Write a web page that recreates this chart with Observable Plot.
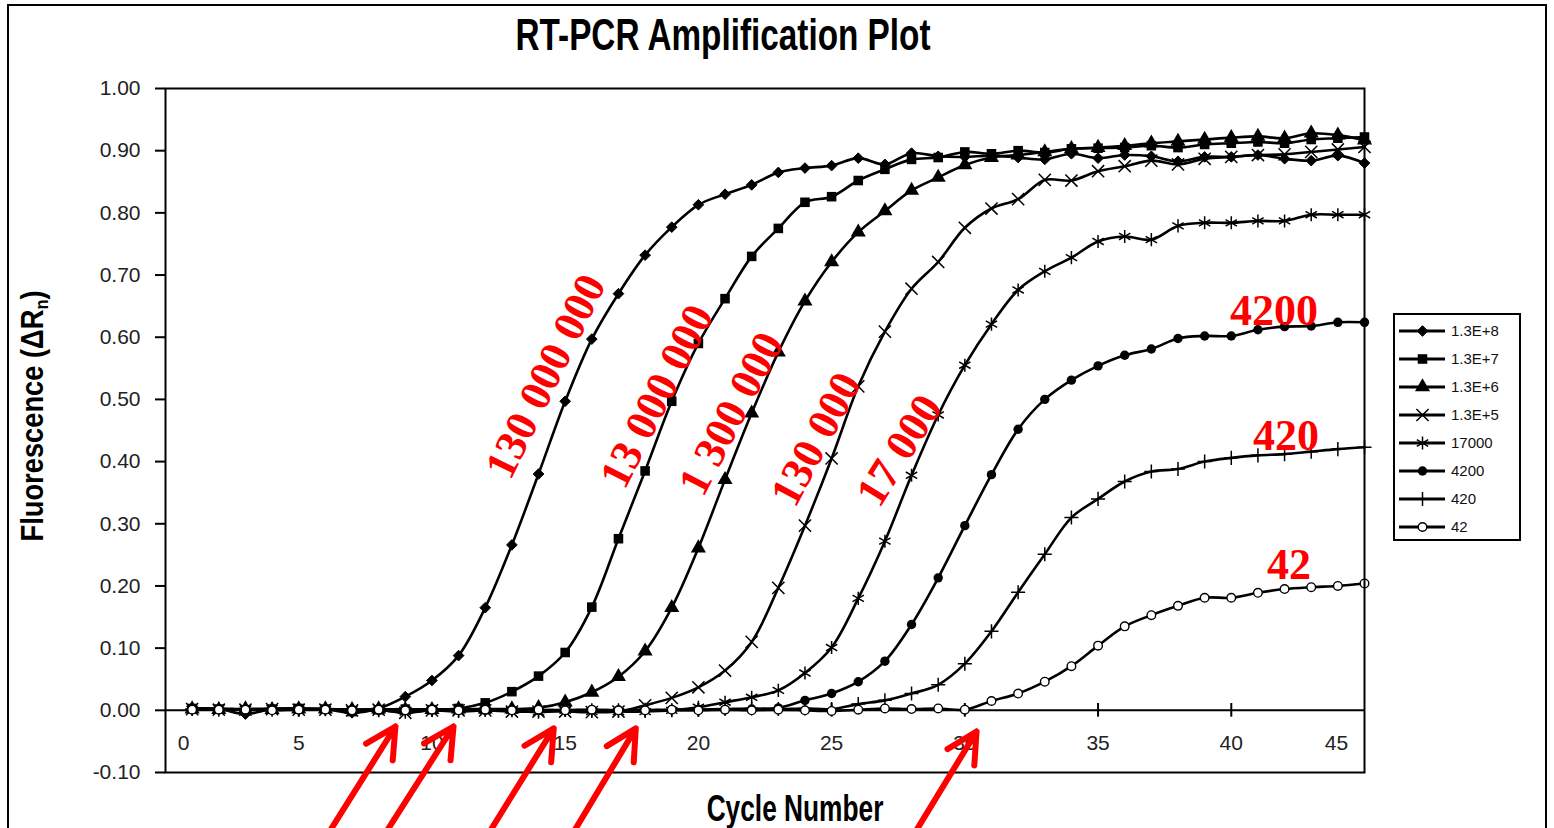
<!DOCTYPE html>
<html>
<head>
<meta charset="utf-8">
<script src="https://cdn.jsdelivr.net/npm/d3@7"></script>
<script src="https://cdn.jsdelivr.net/npm/@observablehq/plot@0.6"></script>
<style>
html, body { margin: 0; padding: 0; background: #fff; overflow: hidden; }
#wrap { position: relative; width: 1554px; height: 828px; overflow: hidden; font-family: "Liberation Sans", Arial, sans-serif; background: #fff; }
#border { position: absolute; left: 7px; top: 4px; width: 1540px; height: 900px; border: 2px solid #000; box-sizing: border-box; }
#chart { position: absolute; left: 0; top: 0; }
.lbl { position: absolute; font-weight: bold; white-space: nowrap; color: #000; line-height: 1; transform-origin: 50% 50%; }
#title { left: 723px; top: 33.5px; font-size: 45px; transform: translate(-50%, -50%) scaleX(0.74); }
#xlabel { left: 795px; top: 809px; font-size: 36px; transform: translate(-50%, -50%) scaleX(0.73); }
#ylabel { left: 32px; top: 416px; font-size: 31px; transform: translate(-50%, -50%) rotate(-90deg) scaleX(0.88); }
#ylabel sub { font-size: 60%; vertical-align: -0.3em; line-height: 0; }
#legend { position: absolute; left: 1393px; top: 313px; width: 128px; height: 228px; border: 2.5px solid #000; box-sizing: border-box; background: #fff; }
</style>
</head>
<body>
<div id="wrap">
  <div id="border"></div>
  <div id="chart"></div>
  <div id="title" class="lbl">RT-PCR Amplification Plot</div>
  <div id="xlabel" class="lbl">Cycle Number</div>
  <div id="ylabel" class="lbl">Fluorescence (ΔR<sub>n</sub>)</div>
  <div id="legend"></div>
</div>
<script>
// ---------- data ----------
const cycles = d3.range(1, 46); // cycle numbers 1..45
const seriesNames = ["1.3E+8", "1.3E+7", "1.3E+6", "1.3E+5", "17000", "4200", "420", "42"];

const s1 = [0.003, 0.002, -0.006, 0.002, 0.003, 0.002, -0.004, 0.003, 0.022, 0.048,
  0.088, 0.165, 0.266, 0.380, 0.497, 0.597, 0.670, 0.732, 0.777, 0.813,
  0.830, 0.845, 0.865, 0.872, 0.876, 0.888, 0.878, 0.896, 0.891, 0.890,
  0.892, 0.889, 0.886, 0.895, 0.888, 0.893, 0.891, 0.883, 0.890, 0.890,
  0.893, 0.887, 0.884, 0.892, 0.880];
const s2 = [0.003, 0.002, 0.001, 0.002, 0.003, 0.002, -0.002, 0.001, 0.002, 0.001,
  0.003, 0.012, 0.030, 0.055, 0.093, 0.166, 0.276, 0.385, 0.497, 0.590,
  0.662, 0.730, 0.775, 0.817, 0.826, 0.852, 0.870, 0.886, 0.889, 0.898,
  0.895, 0.900, 0.897, 0.903, 0.904, 0.905, 0.908, 0.905, 0.910, 0.912,
  0.914, 0.912, 0.918, 0.920, 0.922];
const s3 = [0.002, 0.001, 0.002, 0.001, 0.002, 0.002, 0.001, 0.002, 0.001, 0.001,
  0.002, 0.002, 0.002, 0.004, 0.013, 0.029, 0.054, 0.095, 0.165, 0.261,
  0.371, 0.478, 0.576, 0.658, 0.721, 0.769, 0.803, 0.836, 0.857, 0.877,
  0.889, 0.893, 0.898, 0.903, 0.905, 0.908, 0.912, 0.915, 0.918, 0.921,
  0.923, 0.920, 0.928, 0.925, 0.917];
const s4 = [0.002, 0.001, 0.001, 0.002, 0.001, 0.001, 0.000, 0.001, -0.004, 0.000,
  0.000, 0.000, -0.002, -0.002, -0.002, -0.003, -0.002, 0.008, 0.020, 0.037,
  0.064, 0.110, 0.197, 0.297, 0.405, 0.521, 0.609, 0.678, 0.721, 0.776,
  0.807, 0.822, 0.853, 0.852, 0.867, 0.875, 0.884, 0.878, 0.887, 0.890,
  0.893, 0.894, 0.898, 0.902, 0.906];
const s5 = [0.002, 0.003, 0.002, 0.003, 0.002, 0.001, 0.001, 0.000, -0.003, 0.000,
  -0.002, 0.000, 0.000, -0.003, 0.000, -0.002, -0.002, -0.002, 0.000, 0.005,
  0.013, 0.021, 0.032, 0.060, 0.101, 0.180, 0.272, 0.378, 0.475, 0.555,
  0.621, 0.676, 0.706, 0.728, 0.754, 0.762, 0.757, 0.779, 0.784, 0.784,
  0.787, 0.787, 0.797, 0.797, 0.797];
const s6 = [0.002, 0.002, 0.001, 0.002, 0.001, 0.001, 0.001, 0.000, 0.000, 0.002,
  0.000, 0.000, 0.001, 0.000, 0.000, 0.001, 0.000, 0.000, 0.001, 0.001,
  0.001, 0.002, 0.004, 0.016, 0.027, 0.046, 0.079, 0.138, 0.213, 0.297,
  0.379, 0.452, 0.500, 0.531, 0.554, 0.571, 0.581, 0.598, 0.602, 0.602,
  0.612, 0.617, 0.618, 0.624, 0.624];
const s7 = [0.002, 0.001, 0.002, 0.001, 0.001, 0.002, 0.001, 0.000, 0.001, 0.001,
  0.000, 0.001, 0.000, 0.000, 0.001, 0.000, 0.000, 0.001, 0.000, 0.001,
  0.002, 0.003, 0.002, 0.003, 0.002, 0.010, 0.016, 0.027, 0.041, 0.075,
  0.127, 0.190, 0.251, 0.310, 0.340, 0.368, 0.384, 0.388, 0.400, 0.406,
  0.410, 0.412, 0.416, 0.420, 0.423];
const s8 = [0.001, 0.001, 0.001, 0.000, 0.001, 0.001, 0.000, 0.001, 0.000, 0.001,
  0.000, 0.001, 0.000, 0.001, 0.000, 0.001, 0.000, 0.000, 0.001, 0.000,
  0.001, 0.000, 0.001, 0.000, -0.001, 0.001, 0.003, 0.002, 0.003, 0.001,
  0.015, 0.027, 0.046, 0.071, 0.104, 0.135, 0.153, 0.168, 0.181, 0.181,
  0.189, 0.195, 0.198, 0.200, 0.204];
const seriesValues = [s1, s2, s3, s4, s5, s6, s7, s8];

const yTicks = [-0.1, 0, 0.1, 0.2, 0.3, 0.4, 0.5, 0.6, 0.7, 0.8, 0.9, 1.0];
const xTicks = [0, 5, 10, 15, 20, 25, 30, 35, 40, 45];

// red copy-number annotations (data coordinates: cycle, ΔRn)
const annoText = ["130 000 000", "13 000 000", "1 300 000", "130 000", "17 000", "4200", "420", "42"];
const annoCycle = [14.27, 18.44, 21.23, 24.42, 27.54, 41.6, 42.05, 42.17];
const annoValue = [0.537, 0.505, 0.477, 0.436, 0.418, 0.643, 0.442, 0.234];
const annoAngle = [-64, -63, -62.5, -62, -58, 0, 0, 0];

// red arrows pointing at threshold cycles (tail -> tip)
const arrowTailCycle = [5.76, 7.89, 11.78, 14.95, 27.77];
const arrowTailValue = [-0.222, -0.222, -0.222, -0.222, -0.222];
const arrowTipCycle = [8.63, 10.81, 14.57, 17.65, 30.44];
const arrowTipValue = [-0.026, -0.026, -0.029, -0.029, -0.034];

// ---------- build tables ----------
const data = seriesNames.flatMap((name, i) =>
  cycles.map((c, j) => ({series: name, cycle: c, value: seriesValues[i][j]})));
const annos = annoText.map((t, i) => ({text: t, cycle: annoCycle[i], value: annoValue[i], angle: annoAngle[i]}));
const arrows = arrowTipCycle.map((c, i) => ({x1: arrowTailCycle[i], y1: arrowTailValue[i], x2: c, y2: arrowTipValue[i]}));

const markerStyles = [
  {symbol: d3.symbolDiamond2, r: 4.8, fill: "black", stroke: "black", strokeWidth: 1},
  {symbol: d3.symbolSquare, r: 5.4, fill: "black", stroke: "none", strokeWidth: 0},
  {symbol: d3.symbolTriangle, r: 5.6, fill: "black", stroke: "none", strokeWidth: 0},
  {symbol: d3.symbolTimes, r: 5.6, fill: "none", stroke: "black", strokeWidth: 1.5},
  {symbol: d3.symbolAsterisk, r: 6.2, fill: "none", stroke: "black", strokeWidth: 1.5},
  {symbol: d3.symbolCircle, r: 4.7, fill: "black", stroke: "none", strokeWidth: 0},
  {symbol: d3.symbolPlus, r: 4.6, fill: "none", stroke: "black", strokeWidth: 1.5},
  {symbol: d3.symbolCircle, r: 4.3, fill: "white", stroke: "black", strokeWidth: 1.4}
];

const dotMarks = seriesNames.map((name, i) => {
  const m = markerStyles[i];
  return Plot.dot(data.filter(d => d.series === name), {
    x: "cycle", y: "value", symbol: m.symbol, r: m.r,
    fill: m.fill, stroke: m.stroke, strokeWidth: m.strokeWidth
  });
});

const inner = xTicks.filter(t => t !== 0 && t !== 45);
const fmt = d => d.toFixed(2);

const chart = Plot.plot({
  width: 1554,
  height: 828,
  marginLeft: 165,
  marginRight: 190,
  marginTop: 88,
  marginBottom: 56,
  style: {fontFamily: "Liberation Sans, Arial, sans-serif", fontSize: "21px", color: "#000", background: "transparent"},
  x: {domain: [0, 45], axis: null},
  y: {domain: [-0.1, 1.0], axis: null},
  marks: [
    Plot.ruleY([0], {stroke: "black", strokeWidth: 2}),
    Plot.ruleX(inner, {x: d => d, y1: -0.011, y2: 0.011, stroke: "black", strokeWidth: 2}),
    Plot.line(data, {x: "cycle", y: "value", z: "series", stroke: "black", strokeWidth: 2.6, curve: "catmull-rom"}),
    ...dotMarks,
    Plot.frame({stroke: "black", strokeWidth: 2}),
    Plot.axisY(yTicks, {tickFormat: fmt, tickSize: 10, tickPadding: 15, fontSize: 21, label: null, stroke: "black", strokeWidth: 2, fill: "#222"}),
    Plot.text(inner, {x: d => d, y: -0.053, text: d => String(d), fontSize: 21, fill: "#222"}),
    Plot.text([0], {x: d => d, y: -0.053, text: d => String(d), fontSize: 21, fill: "#222", dx: 18}),
    Plot.text([45], {x: d => d, y: -0.053, text: d => String(d), fontSize: 21, fill: "#222", dx: -28}),
    Plot.text(annos, {x: "cycle", y: "value", text: "text", rotate: "angle", fill: "#ff0000",
      fontFamily: "Liberation Serif, 'Times New Roman', serif", fontWeight: "bold", fontSize: 44}),
    Plot.arrow(arrows, {x1: "x1", y1: "y1", x2: "x2", y2: "y2", stroke: "#ff0000", strokeWidth: 6,
      headLength: 8.5, headAngle: 55, strokeLinecap: "round", strokeLinejoin: "round"})
  ]
});
document.getElementById("chart").appendChild(chart);

// ---------- legend ----------
const leg = d3.select("#legend").append("svg").attr("width", 123).attr("height", 223)
  .style("display", "block");
seriesNames.forEach((name, i) => {
  const m = markerStyles[i];
  const cy = 16 + i * 28;
  const g = leg.append("g");
  g.append("line").attr("x1", 4).attr("x2", 50).attr("y1", cy).attr("y2", cy)
    .attr("stroke", "black").attr("stroke-width", 3);
  g.append("path").attr("transform", `translate(27.5,${cy})`)
    .attr("d", d3.symbol(m.symbol, Math.PI * m.r * m.r)())
    .attr("fill", m.fill).attr("stroke", m.stroke === "none" ? null : m.stroke)
    .attr("stroke-width", m.strokeWidth);
  g.append("text").attr("x", 56).attr("y", cy).attr("dy", "0.36em")
    .attr("font-family", "Liberation Sans, Arial, sans-serif").attr("font-size", 15)
    .attr("fill", "#111").text(name);
});
</script>
</body>
</html>
